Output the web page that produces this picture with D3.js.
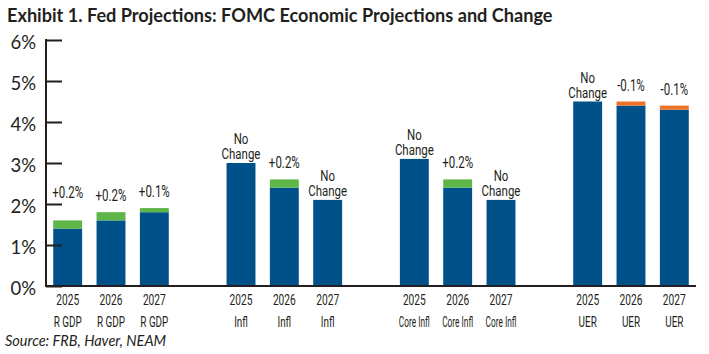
<!DOCTYPE html>
<html>
<head>
<meta charset="utf-8">
<script src="https://cdn.jsdelivr.net/npm/d3@7"></script>
<style>
  html, body { margin: 0; padding: 0; background: #fff; }
  svg { display: block; }
</style>
</head>
<body>
<svg id="chart" width="709" height="354"></svg>
<script>
// ---- data ----
const groups = ["R GDP", "Infl", "Core Infl", "UER"];
const groupLabels = ["R GDP", "Infl", "Core Infl", "UER"];
const years = ["2025", "2026", "2027"];
const currentValues = [1.6, 1.8, 1.9, 3.0, 2.6, 2.1, 3.1, 2.6, 2.1, 4.5, 4.4, 4.3];
const priorValues   = [1.4, 1.6, 1.8, 3.0, 2.4, 2.1, 3.1, 2.4, 2.1, 4.5, 4.5, 4.4];
const changeLabels  = ["+0.2%", "+0.2%", "+0.1%", "No Change", "+0.2%", "No Change",
                       "No Change", "+0.2%", "No Change", "No Change", "-0.1%", "-0.1%"];
const yTicks = [0, 1, 2, 3, 4, 5, 6];
const title = "Exhibit 1. Fed Projections: FOMC Economic Projections and Change";
const source = "Source: FRB, Haver, NEAM";

// ---- build records ----
const records = [];
groups.forEach((g, gi) => {
  years.forEach((y, yi) => {
    const i = gi * 3 + yi;
    records.push({ key: g + "|" + y, group: g, glabel: groupLabels[gi], year: y,
      cur: currentValues[i], prior: priorValues[i], label: changeLabels[i] });
  });
});
const slots = [];
groups.forEach((g, gi) => {
  years.forEach(y => slots.push(g + "|" + y));
  if (gi < groups.length - 1) slots.push("gap" + gi);
});

const BLUE = "#00508a", GREEN = "#5db646", ORANGE = "#ec7226", INK = "#231f20";
const COND = "Roboto, 'Liberation Sans', sans-serif";
const TICK_LEN = 16, AXIS_X = 46;

const svg = d3.select("#chart");
const x = d3.scaleBand().domain(slots).range([AXIS_X, 696]).paddingInner(0.333).paddingOuter(0.1667);
const y = d3.scaleLinear().domain([0, 6]).range([286, 40]);

// condensed text: horizontally scaled with a transform
function condText(g, str, cx, yy, size, factor, maxW) {
  const t = g.append("text").attr("x", 0).attr("y", 0).attr("text-anchor", "middle")
    .attr("font-family", COND).attr("font-size", size).attr("fill", INK).text(str);
  const nat = t.node().getComputedTextLength();
  let f = factor;
  if (maxW && nat * f > maxW) f = maxW / nat;
  t.attr("transform", `translate(${cx},${yy}) scale(${f},1)`);
  t.datum({ cx, yy, w: nat * f });
  return t;
}

// title
const t = svg.append("text").attr("x", 7).attr("y", 22)
  .attr("font-family", "Lato, 'Open Sans', sans-serif").attr("font-weight", 700)
  .attr("font-size", 17).attr("fill", INK).text(title);
const tw = t.node().getComputedTextLength();
t.attr("font-size", 17 * 546 / tw);

// bars
const bars = svg.append("g");
records.forEach(d => {
  const base = Math.min(d.cur, d.prior);
  bars.append("rect").attr("x", x(d.key)).attr("width", x.bandwidth())
    .attr("y", y(base)).attr("height", y(0) - y(base)).attr("fill", BLUE);
  if (d.cur !== d.prior) {
    const top = Math.max(d.cur, d.prior);
    bars.append("rect").attr("x", x(d.key)).attr("width", x.bandwidth())
      .attr("y", y(top)).attr("height", y(base) - y(top))
      .attr("fill", d.cur > d.prior ? GREEN : ORANGE);
  }
});

// value labels (kept clear of the y-axis ticks)
const vl = svg.append("g");
records.forEach(d => {
  const top = y(Math.max(d.cur, d.prior));
  const cx = x(d.key) + x.bandwidth() / 2;
  if (d.label === "No Change") {
    const txt = vl.append("text").attr("text-anchor", "middle")
      .attr("font-family", COND).attr("font-size", 15.5).attr("fill", INK)
      .attr("transform", `translate(${cx},${top - 4}) scale(0.74,1)`);
    txt.append("tspan").attr("x", 0).attr("y", -15).text("No");
    txt.append("tspan").attr("x", 0).attr("y", 0).text("Change");
  } else {
    let base = top - 11;
    const lbl = condText(vl, d.label, cx, base, 16, 0.72);
    const w = lbl.datum().w;
    if (cx - w / 2 < AXIS_X + TICK_LEN + 2) {
      yTicks.forEach(v => {
        const ty = y(v);
        if (base + 2 > ty - 4 && base - 14 < ty + 2) base = ty - 6;
      });
      lbl.attr("transform", `translate(${cx},${base}) scale(0.72,1)`);
    }
  }
});

// y axis
const yAxis = d3.axisRight(y).tickValues(yTicks).tickSize(TICK_LEN).tickFormat("");
const ya = svg.append("g").attr("transform", `translate(${AXIS_X},0)`).call(yAxis);
ya.select(".domain").remove();
ya.selectAll(".tick line").attr("stroke", INK).attr("stroke-width", 2);
svg.append("line").attr("x1", AXIS_X).attr("x2", AXIS_X).attr("y1", y(6) - 1).attr("y2", y(0) + 1)
  .attr("stroke", INK).attr("stroke-width", 2);
svg.append("g").selectAll("text").data(yTicks).join("text")
  .attr("x", 36).attr("y", v => y(v) + 9).attr("text-anchor", "end")
  .attr("font-family", "Lato, sans-serif").attr("font-size", 18.5).attr("fill", INK)
  .text(v => v + "%");

// x axis
const xAxis = d3.axisBottom(x).tickSize(0).tickFormat("");
const xa = svg.append("g").attr("transform", "translate(0,286)").call(xAxis);
xa.select(".domain").attr("stroke", INK).attr("stroke-width", 2).attr("d", `M${AXIS_X},0H696`);
const xl = svg.append("g");
records.forEach(d => {
  const cx = x(d.key) + x.bandwidth() / 2;
  condText(xl, d.year, cx, 305, 15, 0.68);
  condText(xl, d.glabel, cx, 327, 15, 0.66, 31);
});

// source
svg.append("text").attr("x", 5).attr("y", 346)
  .attr("font-family", "Lato, sans-serif").attr("font-style", "italic")
  .attr("font-size", 14.5).attr("fill", INK).text(source);
</script>
</body>
</html>
